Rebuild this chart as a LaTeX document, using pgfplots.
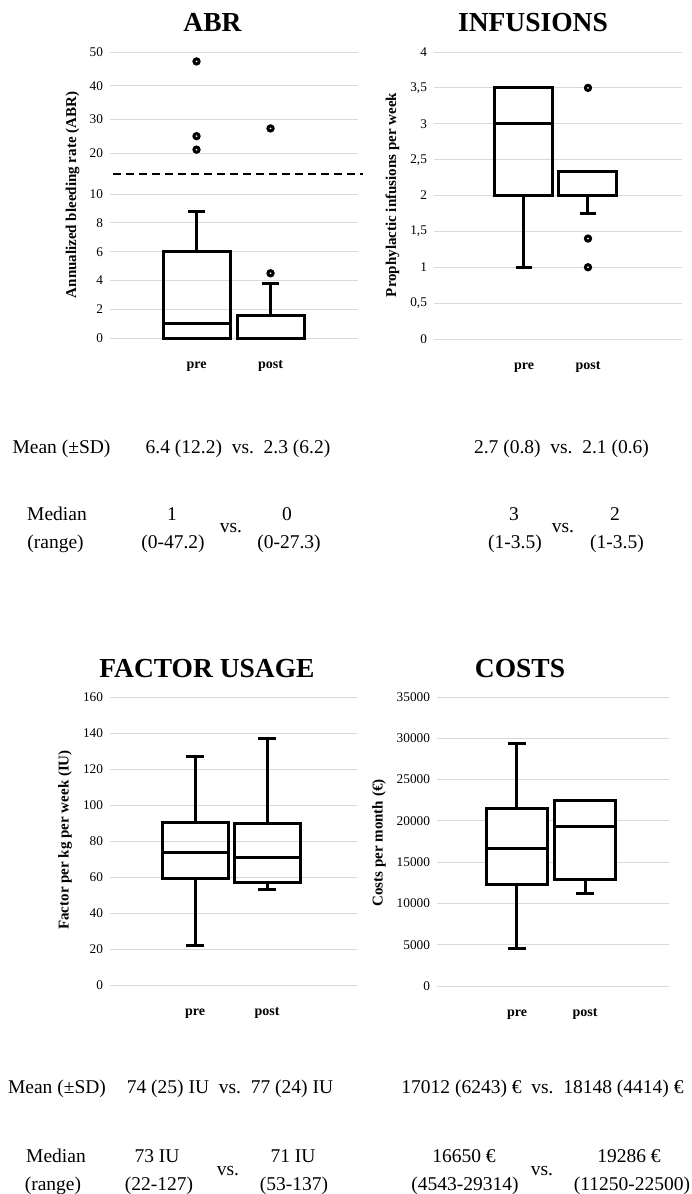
\documentclass[border=0pt]{standalone}
\usepackage{fontspec}
\setmainfont{Liberation Serif}
\usepackage{pgfplots}
\pgfplotsset{compat=1.18}
\usepgfplotslibrary{statistics}

\pgfplotsset{
  myaxis/.style={
    scale only axis,
    anchor=south west,
    axis line style={draw=none},
    major tick length=0pt,
    ymajorgrids,
    major grid style={line width=1pt, draw=black!15},
    xtick={1,2}, xticklabels={pre,post},
    xticklabel style={font=\fontsize{14}{16}\selectfont\bfseries, text height=10pt, text depth=3pt, yshift=-17.3pt},
    yticklabel style={font=\fontsize{13.3}{15}\selectfont, xshift=-3.5pt},
    /pgf/number format/assume math mode=true,
    /pgf/number format/set thousands separator={},
    scaled y ticks=false,
    clip=false,
    boxplot/draw direction=y,
  },
  mybox/.style={black, line width=3pt, solid, line join=miter},
  myout/.style={only marks, black, line width=3pt, mark=*, mark size=2.6pt, mark options={fill=white, draw=black, line width=3pt, solid}},
}

\begin{document}
\begin{tikzpicture}
\path[use as bounding box] (0pt,0pt) rectangle (691pt,-1194pt);

% ---------------- ABR (lower part) ----------------
\begin{axis}[myaxis, at={(110pt,-338pt)}, width=248pt, height=164pt,
  xmin=-0.169, xmax=3.182, ymin=0, ymax=11.4, ytick={0,2,4,6,8,10}]
  \addplot[mybox, boxplot prepared={draw position=1, lower whisker=0, lower quartile=0, median=1, upper quartile=6, upper whisker=8.8, box extend=0.905, whisker extend=0.22}] coordinates {};
  \addplot[mybox, boxplot prepared={draw position=2, lower whisker=0, lower quartile=0, median=0, upper quartile=1.55, upper whisker=3.8, box extend=0.905, whisker extend=0.22}] coordinates {};
  \addplot[myout] coordinates {(2,4.5)};
  \addplot[black, line width=1.8pt, dash pattern=on 8pt off 5pt] coordinates {(-0.13,11.4) (3.25,11.4)};
\end{axis}
% ---------------- ABR (upper part) ----------------
\begin{axis}[myaxis, at={(110pt,-153pt)}, width=248pt, height=101pt,
  xmin=-0.169, xmax=3.182, ymin=20, ymax=50, ytick={20,30,40,50}, xtick=\empty]
  \addplot[myout] coordinates {(1,21) (1,25) (1,47.2) (2,27.3)};
\end{axis}
\node[font=\fontsize{27.5}{30}\selectfont\bfseries, anchor=base] at (212.5pt,-31pt) {ABR};
\node[rotate=90, font=\fontsize{15}{17}\selectfont\bfseries] at (72.5pt,-195pt) {Annualized bleeding rate (ABR)};

% ---------------- INFUSIONS ----------------
\begin{axis}[myaxis, at={(434pt,-339pt)}, width=248pt, height=287pt,
  xmin=-0.406, xmax=3.469, ymin=0, ymax=4, ytick={0,0.5,1,1.5,2,2.5,3,3.5,4},
  yticklabel style={/pgf/number format/.cd, use comma, fixed}]
  \addplot[mybox, boxplot prepared={draw position=1, lower whisker=1, lower quartile=2, median=3, upper quartile=3.5, upper whisker=3.5, box extend=0.906, whisker extend=0.25}] coordinates {};
  \addplot[mybox, boxplot prepared={draw position=2, lower whisker=1.75, lower quartile=2, median=2, upper quartile=2.34, upper whisker=2.34, box extend=0.906, whisker extend=0.25}] coordinates {};
  \addplot[myout] coordinates {(2,3.5) (2,1.4) (2,1)};
\end{axis}
\node[font=\fontsize{27.5}{30}\selectfont\bfseries, anchor=base] at (533pt,-31pt) {INFUSIONS};
\node[rotate=90, font=\fontsize{15}{17}\selectfont\bfseries] at (392.5pt,-195pt) {Prophylactic infusions per week};

% ---------------- FACTOR USAGE ----------------
\begin{axis}[myaxis, at={(110pt,-985pt)}, width=247pt, height=288pt,
  xmin=-0.181, xmax=3.25, ymin=0, ymax=160, ytick={0,20,...,160}]
  \addplot[mybox, boxplot prepared={draw position=1, lower whisker=22, lower quartile=59, median=73.5, upper quartile=90.2, upper whisker=127, box extend=0.917, whisker extend=0.26}] coordinates {};
  \addplot[mybox, boxplot prepared={draw position=2, lower whisker=53, lower quartile=57.2, median=71, upper quartile=90, upper whisker=137, box extend=0.917, whisker extend=0.26}] coordinates {};
\end{axis}
\node[font=\fontsize{27.5}{30}\selectfont\bfseries, anchor=base] at (207pt,-677pt) {FACTOR USAGE};
\node[rotate=90, font=\fontsize{15}{17}\selectfont\bfseries] at (65pt,-840pt) {Factor per kg per week (IU)};

% ---------------- COSTS ----------------
\begin{axis}[myaxis, at={(437pt,-986pt)}, width=232pt, height=289pt,
  xmin=-0.176, xmax=3.235, ymin=0, ymax=35000, ytick={0,5000,10000,15000,20000,25000,30000,35000}]
  % pre: whiskers 4543 / 29314, quartiles 12350 / 21550, median 16650
  \addplot[mybox] coordinates {(1,12350) (1,4543)};
  \addplot[mybox] coordinates {(0.8675,4543) (1.1325,4543)};
  \addplot[mybox] coordinates {(1,21550) (1,29314)};
  \addplot[mybox] coordinates {(0.8675,29314) (1.1325,29314)};
  \addplot[mybox, fill=white] coordinates {(0.55,12350) (1.45,12350) (1.45,21550) (0.55,21550)} -- cycle;
  \addplot[mybox] coordinates {(0.55,16650) (1.45,16650)};
  % post: whiskers 11250 / 22500, quartiles 12870 / 22500, median 19286
  \addplot[mybox] coordinates {(2,12870) (2,11250)};
  \addplot[mybox] coordinates {(1.8675,11250) (2.1325,11250)};
  \addplot[mybox, fill=white] coordinates {(1.55,12870) (2.45,12870) (2.45,22500) (1.55,22500)} -- cycle;
  \addplot[mybox] coordinates {(1.55,19286) (2.45,19286)};
\end{axis}
\node[font=\fontsize{27.5}{30}\selectfont\bfseries, anchor=base] at (520pt,-677pt) {COSTS};
\node[rotate=90, font=\fontsize{15}{17}\selectfont\bfseries] at (379pt,-843pt) {Costs per month (€)};

% ---------------- summary text ----------------
\begin{scope}[every node/.style={font=\fontsize{19.5}{22}\selectfont, anchor=base, inner sep=0pt}]
% top
\node at (61.5pt,-453pt) {Mean (±SD)};
\node at (238pt,-453pt) {6.4 (12.2)\ \ vs.\ \ 2.3 (6.2)};
\node at (561.5pt,-453pt) {2.7 (0.8)\ \ vs.\ \ 2.1 (0.6)};
\node at (57pt,-520pt) {Median};
\node at (55.5pt,-548pt) {(range)};
\node at (172pt,-520pt) {1};
\node at (173pt,-548pt) {(0-47.2)};
\node at (231pt,-532pt) {vs.};
\node at (287pt,-520pt) {0};
\node at (289pt,-548pt) {(0-27.3)};
\node at (514pt,-520pt) {3};
\node at (515pt,-548pt) {(1-3.5)};
\node at (563pt,-532pt) {vs.};
\node at (615pt,-520pt) {2};
\node at (617pt,-548pt) {(1-3.5)};
% bottom
\node at (57pt,-1093pt) {Mean (±SD)};
\node at (230pt,-1093pt) {74 (25) IU\ \ vs.\ \ 77 (24) IU};
\node at (542.5pt,-1093pt) {17012 (6243) €\ \ vs.\ \ 18148 (4414) €};
\node at (56pt,-1162pt) {Median};
\node at (53pt,-1190pt) {(range)};
\node at (157pt,-1162pt) {73 IU};
\node at (159pt,-1190pt) {(22-127)};
\node at (228pt,-1175pt) {vs.};
\node at (293pt,-1162pt) {71 IU};
\node at (294pt,-1190pt) {(53-137)};
\node at (464pt,-1162pt) {16650 €};
\node at (465pt,-1190pt) {(4543-29314)};
\node at (542pt,-1175pt) {vs.};
\node at (629pt,-1162pt) {19286 €};
\node at (632pt,-1190pt) {(11250-22500)};
\end{scope}
\end{tikzpicture}
\end{document}
